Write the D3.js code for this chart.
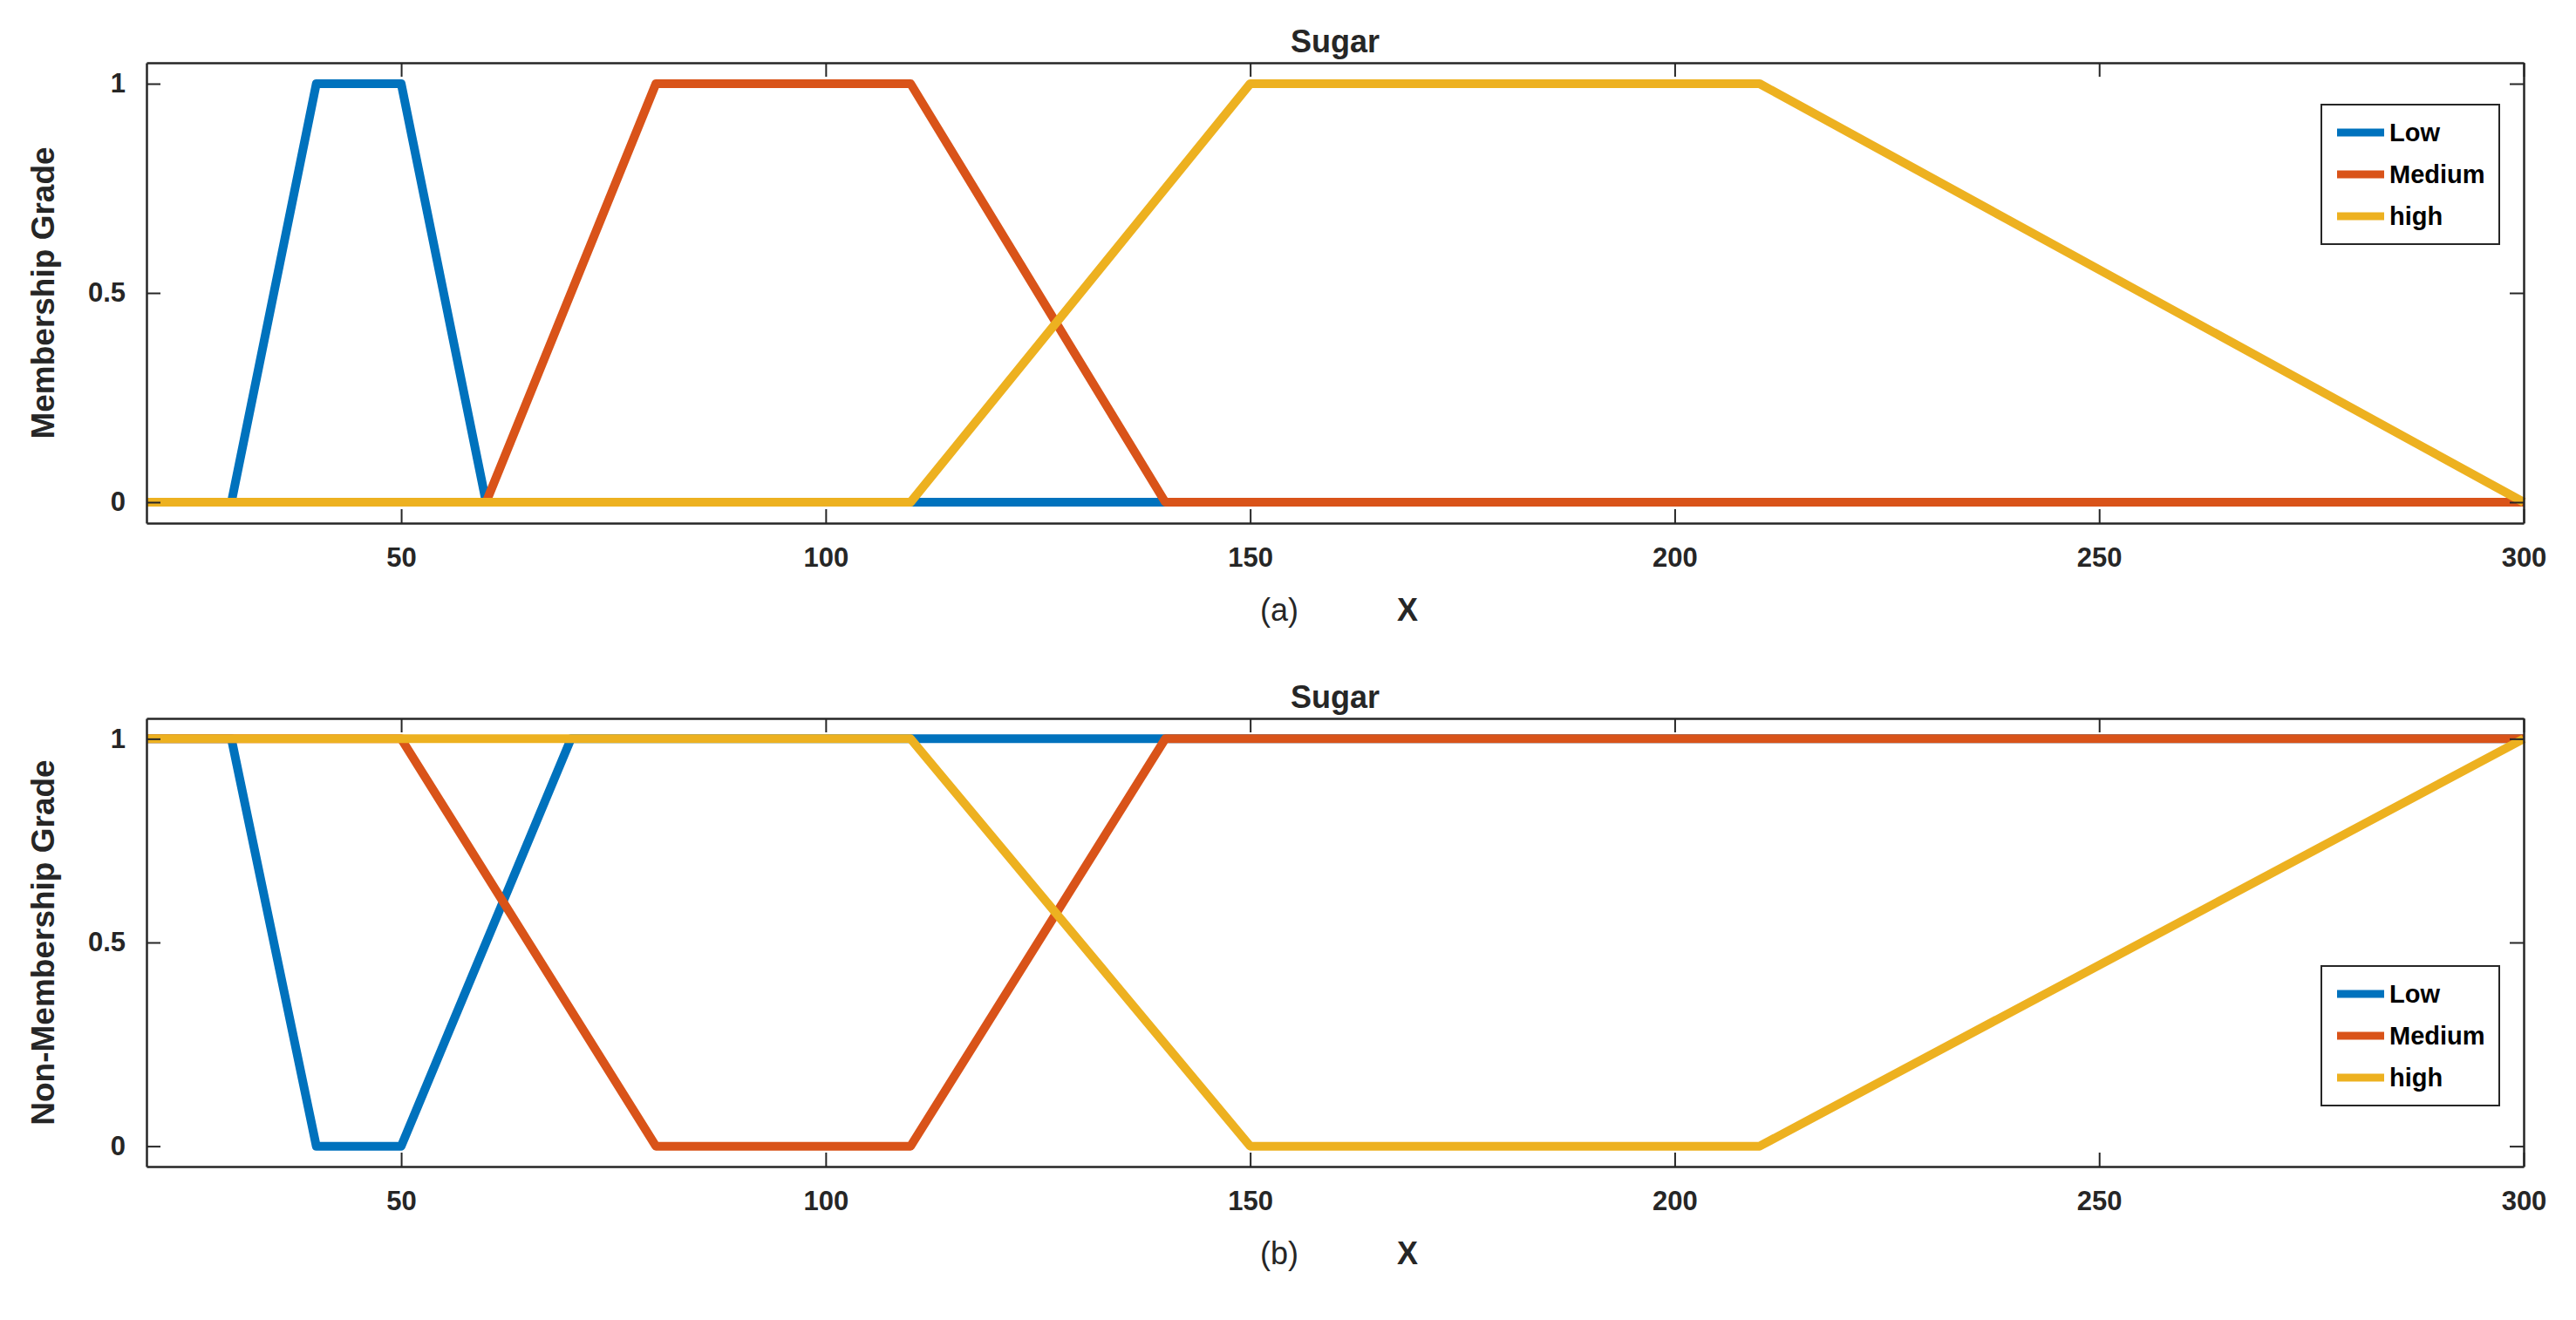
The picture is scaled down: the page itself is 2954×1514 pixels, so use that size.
<!DOCTYPE html>
<html>
<head>
<meta charset="utf-8">
<script src="https://cdn.jsdelivr.net/npm/d3@7"></script>
<style>
body { margin: 0; background: #fff; }
text { font-family: "Liberation Sans", Arial, sans-serif; font-weight: bold; fill: #262626; }
</style>
</head>
<body>
<div id="chart"></div>
<script>
var width = 2954, height = 1514;

var seriesNames = ["Low", "Medium", "high"];
var colors = ["#0072BD", "#D95319", "#EDB120"];
var xTicks = [50, 100, 150, 200, 250, 300];
var yTicks = [0, 0.5, 1];
var yTickLabels = ["0", "0.5", "1"];

// membership grade (panel a)
var lowX = [20, 30, 40, 50, 60, 300];
var lowY = [0, 0, 1, 1, 0, 0];
var medX = [20, 60, 80, 110, 140, 300];
var medY = [0, 0, 1, 1, 0, 0];
var highX = [20, 110, 150, 210, 300];
var highY = [0, 0, 1, 1, 0];

// non-membership grade (panel b)
var nLowX = [20, 30, 40, 50, 70, 300];
var nLowY = [1, 1, 0, 0, 1, 1];
var nMedX = [20, 50, 80, 110, 140, 300];
var nMedY = [1, 1, 0, 0, 1, 1];
var nHighX = [20, 110, 150, 210, 300];
var nHighY = [1, 1, 0, 0, 1];

var svg = d3.select("#chart").append("svg")
    .attr("width", width)
    .attr("height", height);

var left = 168, right = 2894;

function zip(xs, ys) {
    return xs.map(function(x, i) { return [x, ys[i]]; });
}

function drawPanel(top, bottom, series, yTitle, tag, legendTop) {
    var x = d3.scaleLinear().domain([20, 300]).range([left, right]);
    var y = d3.scaleLinear().domain([-0.05, 1.05]).range([bottom, top]);
    var g = svg.append("g");

    var line = d3.line()
        .x(function(d) { return x(d[0]); })
        .y(function(d) { return y(d[1]); });

    series.forEach(function(s, i) {
        g.append("path")
            .attr("d", line(s))
            .attr("fill", "none")
            .attr("stroke", colors[i])
            .attr("stroke-width", 10)
            .attr("stroke-linejoin", "round");
    });

    // axes, MATLAB style with inward ticks on all sides
    g.append("g").attr("transform", "translate(0," + bottom + ")")
        .call(d3.axisBottom(x).tickValues(xTicks).tickSizeInner(-16).tickSizeOuter(0).tickPadding(28))
        .call(function(a) {
            a.select(".domain").attr("stroke", "#262626").attr("stroke-width", 2.5);
            a.selectAll("text").attr("font-size", 31).style("font-family", "Liberation Sans").style("font-weight", "bold");
        });
    g.append("g").attr("transform", "translate(0," + top + ")")
        .call(d3.axisTop(x).tickValues(xTicks).tickSizeInner(-16).tickSizeOuter(0).tickFormat(""))
        .select(".domain").attr("stroke", "#262626").attr("stroke-width", 2.5);
    g.append("g").attr("transform", "translate(" + left + ",0)")
        .call(d3.axisLeft(y).tickValues(yTicks).tickSizeInner(-16).tickSizeOuter(0).tickPadding(24)
            .tickFormat(function(d, i) { return yTickLabels[i]; }))
        .call(function(a) {
            a.select(".domain").attr("stroke", "#262626").attr("stroke-width", 2.5);
            a.selectAll("text").attr("font-size", 31).style("font-family", "Liberation Sans").style("font-weight", "bold");
        });
    g.append("g").attr("transform", "translate(" + right + ",0)")
        .call(d3.axisRight(y).tickValues(yTicks).tickSizeInner(-16).tickSizeOuter(0).tickFormat(""))
        .select(".domain").attr("stroke", "#262626").attr("stroke-width", 2.5);
    g.selectAll(".tick line").attr("stroke", "#262626").attr("stroke-width", 2);

    g.append("text")
        .attr("x", (left + right) / 2)
        .attr("y", top - 12)
        .attr("text-anchor", "middle")
        .attr("font-size", 36)
        .text("Sugar");

    g.append("text")
        .attr("transform", "translate(62," + (top + bottom) / 2 + ") rotate(-90)")
        .attr("text-anchor", "middle")
        .attr("font-size", 37)
        .text(yTitle);

    g.append("text")
        .attr("x", 1467)
        .attr("y", bottom + 112)
        .attr("text-anchor", "middle")
        .attr("font-size", 36)
        .style("font-weight", "normal")
        .text(tag);
    g.append("text")
        .attr("x", 1614)
        .attr("y", bottom + 112)
        .attr("text-anchor", "middle")
        .attr("font-size", 36)
        .text("X");

    // legend
    var lx = 2662, lw = 204, lh = 160;
    var leg = g.append("g").attr("transform", "translate(" + lx + "," + legendTop + ")");
    leg.append("rect")
        .attr("width", lw).attr("height", lh)
        .attr("fill", "#fff").attr("stroke", "#262626").attr("stroke-width", 2);
    seriesNames.forEach(function(n, i) {
        var yy = 32 + i * 48;
        leg.append("line")
            .attr("x1", 18).attr("x2", 72).attr("y1", yy).attr("y2", yy)
            .attr("stroke", colors[i]).attr("stroke-width", 9);
        leg.append("text")
            .attr("x", 78).attr("y", yy + 10)
            .attr("font-size", 29)
            .style("fill", "#000")
            .text(n);
    });
}

drawPanel(72, 600,
    [zip(lowX, lowY), zip(medX, medY), zip(highX, highY)],
    "Membership Grade", "(a)", 120);
drawPanel(824, 1338,
    [zip(nLowX, nLowY), zip(nMedX, nMedY), zip(nHighX, nHighY)],
    "Non-Membership Grade", "(b)", 1108);
</script>
</body>
</html>
